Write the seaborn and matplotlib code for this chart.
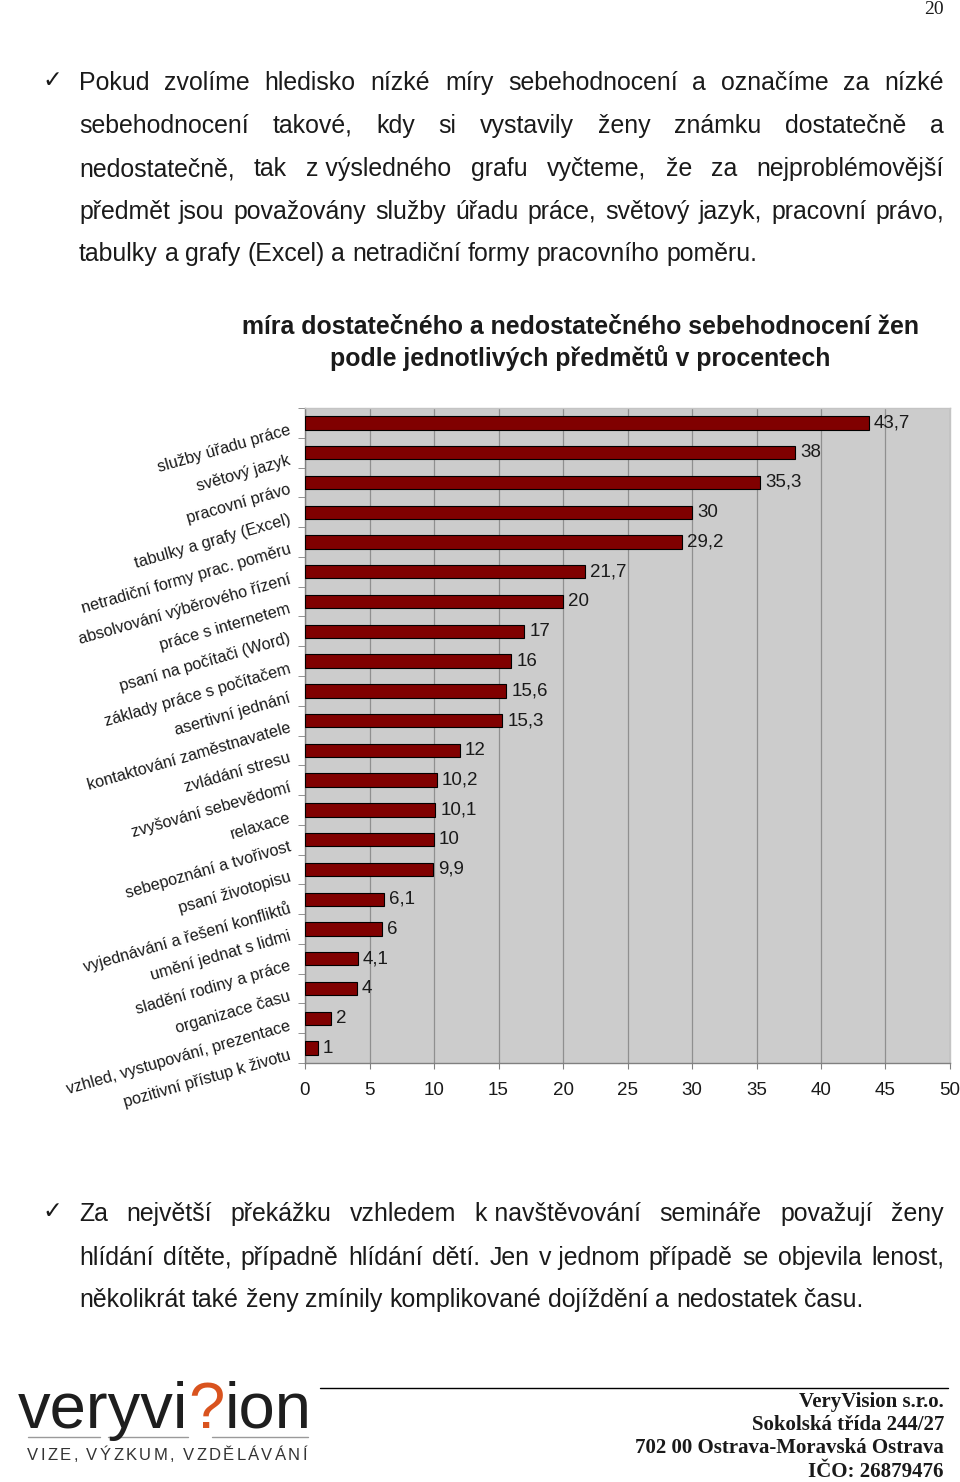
import matplotlib
matplotlib.use("Agg")
import matplotlib.pyplot as plt
import seaborn as sns
import pandas as pd
import numpy as np

categories = [
    "služby úřadu práce", "světový jazyk", "pracovní právo", "tabulky a grafy (Excel)",
    "netradiční formy prac. poměru", "absolvování výběrového řízení", "práce s internetem",
    "psaní na počítači (Word)", "základy práce s počítačem", "asertivní jednání",
    "kontaktování zaměstnavatele", "zvládání stresu", "zvyšování sebevědomí", "relaxace",
    "sebepoznání a tvořivost", "psaní životopisu", "vyjednávání a řešení konfliktů",
    "umění jednat s lidmi", "sladění rodiny a práce", "organizace času",
    "vzhled, vystupování, prezentace", "pozitivní přístup k životu",
]
values = [43.7, 38, 35.3, 30, 29.2, 21.7, 20, 17, 16, 15.6, 15.3, 12, 10.2, 10.1,
          10, 9.9, 6.1, 6, 4.1, 4, 2, 1]
x_ticks = [0, 5, 10, 15, 20, 25, 30, 35, 40, 45, 50]
title_lines = ["míra dostatečného a nedostatečného sebehodnocení žen",
               "podle jednotlivých předmětů v procentech"]
para1 = [
    "Pokud zvolíme hledisko nízké míry sebehodnocení a označíme za nízké",
    "sebehodnocení takové, kdy si vystavily ženy známku dostatečně a",
    "nedostatečně, tak z\u00a0výsledného grafu vyčteme, že za nejproblémovější",
    "předmět jsou považovány služby úřadu práce, světový jazyk, pracovní právo,",
    "tabulky a grafy (Excel) a netradiční formy pracovního poměru.",
]
para2 = [
    "Za největší překážku vzhledem k\u00a0navštěvování semináře považují ženy",
    "hlídání dítěte, případně hlídání dětí. Jen v\u00a0jednom případě se objevila lenost,",
    "několikrát také ženy zmínily komplikované dojíždění a nedostatek času.",
]
footer_lines = ["VeryVision s.r.o.", "Sokolská třída 244/27",
                "702 00 Ostrava-Moravská Ostrava", "IČO: 26879476"]

sns.set_style("white")
plt.rcParams["font.family"] = ["Liberation Sans", "DejaVu Sans"]

W, H = 960, 1482
fig = plt.figure(figsize=(W / 100, H / 100), dpi=100)
renderer = fig.canvas.get_renderer()


def fx(x):
    return x / W


def fy(y):
    return 1 - y / H


BODY = ["Liberation Sans", "DejaVu Sans"]
TXT = "#1a1a1a"


def line_text(line, y, x0, x1, size, justify=True):
    words = line.split(" ")
    texts = [fig.text(0, fy(y), w, fontsize=size, family=BODY, color=TXT,
                      va="baseline", ha="left") for w in words]
    widths = [t.get_window_extent(renderer).width for t in texts]
    t1 = fig.text(0, 0, "x x", fontsize=size, family=BODY)
    t2 = fig.text(0, 0, "xx", fontsize=size, family=BODY)
    sp = t1.get_window_extent(renderer).width - t2.get_window_extent(renderer).width
    t1.remove(); t2.remove()
    if justify and len(words) > 1:
        gap = (x1 - x0 - sum(widths)) / (len(words) - 1)
    else:
        gap = sp
    x = x0
    for t, w in zip(texts, widths):
        t.set_x(fx(x))
        x += w + gap


BODY_SIZE = 17.9
BASE = 8
fig.text(fx(944), fy(10), "20", fontsize=14, family=["Liberation Serif"],
         ha="right", va="center", color=TXT)

fig.text(fx(52), fy(80), "✓", fontsize=17, family=["DejaVu Sans"], ha="center",
         va="center", color=TXT)
ys1 = [82, 125, 168, 211, 253]
for i, (ln, y) in enumerate(zip(para1, ys1)):
    line_text(ln, y + BASE, 79, 944, BODY_SIZE, justify=(i < len(para1) - 1))

fig.text(fx(52), fy(1211), "✓", fontsize=17, family=["DejaVu Sans"], ha="center",
         va="center", color=TXT)
ys2 = [1213, 1257, 1299]
for i, (ln, y) in enumerate(zip(para2, ys2)):
    line_text(ln, y + BASE, 79, 944, BODY_SIZE, justify=(i < len(para2) - 1))

for ln, y in zip(title_lines, [327, 358]):
    fig.text(fx(580), fy(y), ln, fontsize=17.9, fontweight="bold", family=BODY,
             ha="center", va="center", color=TXT)

# chart
ax = fig.add_axes([fx(305), fy(1063), fx(950) - fx(305), (1063 - 408) / H])
df = pd.DataFrame({"cat": categories, "val": values})
sns.barplot(data=df, x="val", y="cat", orient="h", color="#800000", saturation=1,
            edgecolor="black", linewidth=0.8, width=0.45, ax=ax, zorder=3)
ax.set_facecolor("#cccccc")
ax.set_xlim(0, 50)
ax.set_ylim(len(categories) - 0.5, -0.5)
ax.set_xticks(x_ticks)
ax.set_xticklabels([str(t) for t in x_ticks], fontsize=13.5, color=TXT)
ax.xaxis.grid(True, color="#8f8f8f", linewidth=0.9, zorder=0)
ax.yaxis.grid(False)
ax.set_axisbelow(True)
ax.set_xlabel("")
ax.set_ylabel("")
ax.tick_params(axis="x", length=4, color="#808080", pad=10, direction="out", bottom=True)
ax.set_yticks(range(len(categories)))
ax.set_yticklabels(categories, fontsize=11.7, color=TXT, rotation=16,
                   rotation_mode="anchor", ha="right", va="top")
ax.tick_params(axis="y", length=0, pad=12)
ax.set_yticks(np.arange(-0.5, len(categories), 1.0), minor=True)
ax.tick_params(axis="y", which="minor", length=5, color="#808080", left=True)
for s in ["left", "bottom"]:
    ax.spines[s].set_color("#808080")
    ax.spines[s].set_linewidth(1.0)
for s in ["top", "right"]:
    ax.spines[s].set_color("#c4c4c4")
    ax.spines[s].set_linewidth(1.0)

for i, v in enumerate(values):
    lab = f"{v:g}".replace(".", ",")
    ax.annotate(lab, (v, i), xytext=(5, 0), textcoords="offset pixels",
                ha="left", va="center", fontsize=13.5, color=TXT)

# footer
fig.add_artist(plt.Line2D([fx(320), fx(948)], [fy(1388), fy(1388)], color="black",
                          linewidth=1.0, transform=fig.transFigure))
for ln, y in zip(footer_lines, [1402, 1425, 1448, 1472]):
    fig.text(fx(944), fy(y), ln, fontsize=15, fontweight="bold",
             family=["Liberation Serif"], ha="right", va="center", color=TXT)

# logo
pieces = [("veryvi", "#1e1e1e"), ("?", "#d9531e"), ("ion", "#1e1e1e")]
x = 18
for s, c in pieces:
    t = fig.text(fx(x), fy(1428), s, fontsize=47, family=["Liberation Sans"],
                 fontweight="normal", color=c, ha="left", va="baseline")
    x += t.get_window_extent(renderer).width
for a, b in [(28, 100), (108, 188), (212, 308)]:
    fig.add_artist(plt.Line2D([fx(a), fx(b)], [fy(1437), fy(1437)], color="#9a9a9a",
                              linewidth=1.0, transform=fig.transFigure))
tag = "VIZE, VÝZKUM, VZDĚLÁVÁNÍ"
chars = [fig.text(0, fy(1456), ch, fontsize=12, family=BODY, color="#333333",
                  ha="left", va="center") for ch in tag]
cw = [t.get_window_extent(renderer).width if ch != " " else 4 for t, ch in zip(chars, tag)]
track = (307 - 27 - sum(cw)) / (len(tag) - 1)
x = 27
for t, w in zip(chars, cw):
    t.set_x(fx(x))
    x += w + track

fig.savefig("out.png", dpi=100)
